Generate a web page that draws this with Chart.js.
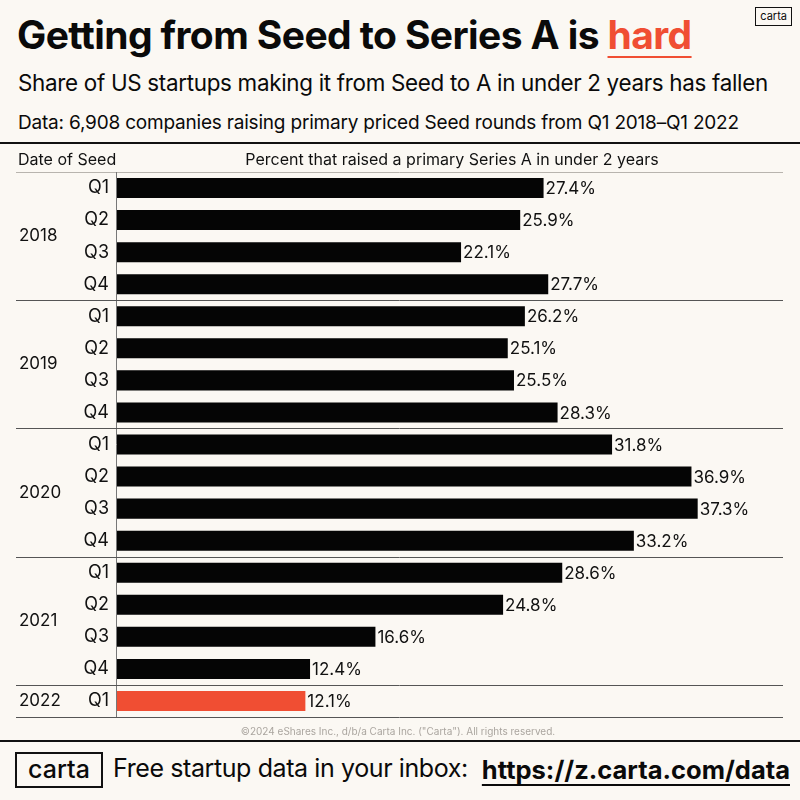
<!DOCTYPE html>
<html>
<head>
<meta charset="utf-8">
<script src="https://cdn.jsdelivr.net/npm/chart.js@4.4.0/dist/chart.umd.min.js"></script>
<style>
  html, body { margin: 0; padding: 0; background: #fbf8f3; }
  body { width: 800px; height: 800px; position: relative; overflow: hidden; font-family: Inter, "Noto Sans", sans-serif; color: #0a0a0a; }
  .abs { position: absolute; white-space: nowrap; }
  #title { left: 17px; top: 11px; font-size: 39px; font-weight: 700; letter-spacing: -0.6px; }
  #title span { color: #f04e33; text-decoration: underline; text-decoration-thickness: 2px; text-underline-offset: 7px; }
  #subtitle { left: 18px; top: 69px; font-size: 22.4px; letter-spacing: -0.3px; }
  #source { left: 18px; top: 111px; font-size: 19px; letter-spacing: -0.2px; }
  #logo-top { right: 8px; top: 7px; border: 1px solid #111; font-size: 11px; padding: 1px 4px 2px; line-height: 14px; }
  .rule { position: absolute; left: 0; width: 800px; height: 2px; background: #111; }
  #chart { position: absolute; left: 0; top: 143px; }
  #logo-bottom { left: 15px; top: 752px; width: 84px; height: 32px; border: 2px solid #111; font-size: 25px; font-weight: 500; text-align: center; line-height: 30px; }
  #cta { left: 113px; top: 753px; font-size: 25px; letter-spacing: -0.4px; }
  #url { right: 10px; top: 754px; font-size: 25.5px; font-weight: 700; text-decoration: underline; text-decoration-thickness: 2px; text-underline-offset: 5px; }
</style>
</head>
<body>
<div id="title" class="abs">Getting from Seed to Series A is <span>hard</span></div>
<div id="logo-top" class="abs">carta</div>
<div id="subtitle" class="abs">Share of US startups making it from Seed to A in under 2 years has fallen</div>
<div id="source" class="abs">Data: 6,908 companies raising primary priced Seed rounds from Q1 2018–Q1 2022</div>
<div class="rule" style="top:142px"></div>
<canvas id="chart" width="800" height="600"></canvas>
<div class="rule" style="top:740px"></div>
<div id="logo-bottom" class="abs">carta</div>
<div id="cta" class="abs">Free startup data in your inbox:</div>
<div id="url" class="abs">https://z.carta.com/data</div>
<script>
const years = ['2018', '2018', '2018', '2018', '2019', '2019', '2019', '2019', '2020', '2020', '2020', '2020', '2021', '2021', '2021', '2021', '2022'];
const quarters = ['Q1', 'Q2', 'Q3', 'Q4', 'Q1', 'Q2', 'Q3', 'Q4', 'Q1', 'Q2', 'Q3', 'Q4', 'Q1', 'Q2', 'Q3', 'Q4', 'Q1'];
const shares = [27.4, 25.9, 22.1, 27.7, 26.2, 25.1, 25.5, 28.3, 31.8, 36.9, 37.3, 33.2, 28.6, 24.8, 16.6, 12.4, 12.1];
const highlightYear = '2022';

const labels = years.map((y, i) => y + ' ' + quarters[i]);
const colors = years.map(y => y === highlightYear ? '#f04e33' : '#050505');
const font = 'Inter, "Noto Sans", sans-serif';

// lines, year labels, value labels and header row
const tablePlugin = {
    id: 'table',
    afterDatasetsDraw(chart) {
        const ctx = chart.ctx;
        const area = chart.chartArea;
        const yScale = chart.scales.y;
        const meta = chart.getDatasetMeta(0);
        const half = (yScale.getPixelForValue(1) - yScale.getPixelForValue(0)) / 2;
        ctx.save();

        // header row
        ctx.fillStyle = '#111';
        ctx.font = '16px ' + font;
        ctx.textBaseline = 'middle';
        ctx.textAlign = 'left';
        ctx.fillText('Date of Seed', 18, 17);
        ctx.textAlign = 'center';
        ctx.fillText('Percent that raised a primary Series A in under 2 years', 452, 17);

        ctx.strokeStyle = '#b8b4ae';
        ctx.lineWidth = 1;
        ctx.beginPath();
        ctx.moveTo(16, area.top + 0.5);
        ctx.lineTo(area.right, area.top + 0.5);
        ctx.stroke();

        // vertical axis
        ctx.strokeStyle = '#777';
        ctx.beginPath();
        ctx.moveTo(area.left - 0.5, area.top);
        ctx.lineTo(area.left - 0.5, area.bottom);
        ctx.stroke();

        // year groups
        ctx.strokeStyle = '#555';
        ctx.font = '17px ' + font;
        ctx.textAlign = 'left';
        let start = 0;
        for (let i = 1; i <= years.length; i++) {
            if (i === years.length || years[i] !== years[start]) {
                const top = yScale.getPixelForValue(start) - half;
                const bottom = yScale.getPixelForValue(i - 1) + half;
                ctx.fillStyle = '#111';
                ctx.fillText(years[start], 19, (top + bottom) / 2);
                ctx.beginPath();
                ctx.moveTo(16, Math.round(bottom) + 0.5);
                ctx.lineTo(area.right, Math.round(bottom) + 0.5);
                ctx.stroke();
                start = i;
            }
        }

        // values
        ctx.font = '17px ' + font;
        ctx.fillStyle = '#111';
        meta.data.forEach((bar, i) => {
            ctx.fillText(shares[i].toFixed(1) + '%', bar.x + 2, bar.y + 1);
        });

        // copyright
        ctx.font = '10px ' + font;
        ctx.fillStyle = '#aaa59f';
        ctx.textAlign = 'center';
        ctx.fillText('©2024 eShares Inc., d/b/a Carta Inc. ("Carta"). All rights reserved.', 398, area.bottom + 15);
        ctx.restore();
    }
};

new Chart(document.getElementById('chart').getContext('2d'), {
    type: 'bar',
    data: {
        labels: labels,
        datasets: [
            {
                label: 'Share',
                data: shares,
                backgroundColor: colors,
                barPercentage: 0.625,
                categoryPercentage: 1
            }
        ]
    },
    options: {
        indexAxis: 'y',
        responsive: false,
        animation: false,
        layout: { padding: { top: 29, bottom: 26, left: 0, right: 17 } },
        plugins: { legend: { display: false }, tooltip: { enabled: false } },
        scales: {
            x: { display: false, min: 0, max: 42.78 },
            y: {
                grid: { display: false, drawTicks: false },
                border: { display: false },
                afterFit(scale) { scale.width = 117; },
                ticks: {
                    color: '#111',
                    padding: 8,
                    font: { family: font, size: 18 },
                    callback: (v, i) => quarters[i]
                }
            }
        }
    },
    plugins: [tablePlugin]
});
</script>
</body>
</html>
